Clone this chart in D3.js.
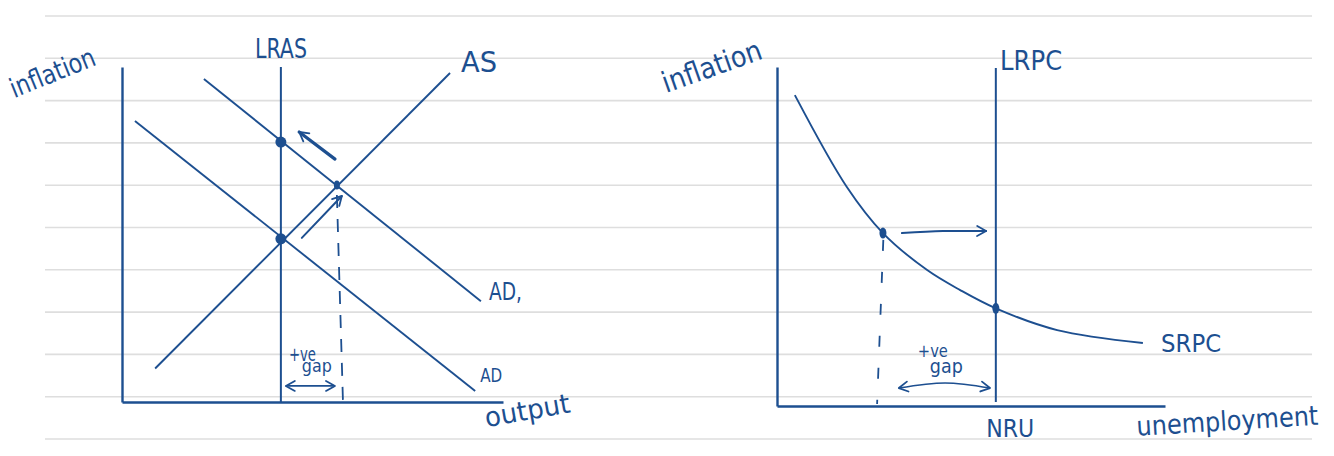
<!DOCTYPE html>
<html lang="en">
<head>
    <meta charset="UTF-8">
    <title>AD-AS and Phillips curve</title>
    <style>
        body { margin: 0; background: #fff; }
        svg { display: block; }
        text {
            fill: #1d4f90;
            font-family: "Liberation Sans Narrow", "DejaVu Sans Condensed", "Liberation Sans", sans-serif;
        }
    </style>
</head>
<body>

<svg width="1334" height="456"></svg>

<script src="https://d3js.org/d3.v7.min.js"></script>
<script>
    // left chart: output (x) vs inflation (y), both on a 0-10 sketch scale
    const lrasX = 4.17;
    const asLine = [[0.87, 1.0], [8.61, 9.82]];
    const adLine = [[0.34, 8.39], [9.27, 0.33]];
    const ad1Line = [[2.15, 9.64], [9.42, 3.01]];
    const leftBigDots = [[4.17, 7.76], [4.17, 4.87]];
    const leftSmallDots = [[5.64, 6.48]];
    const leftDashed = [[5.64, 6.18], [5.80, 0]];
    const leftArrows = [
        [[5.59, 7.25], [4.65, 8.06]],
        [[4.72, 4.90], [5.77, 6.15]]
    ];
    const leftGap = [[4.30, 0.48], [5.59, 0.48]];

    // right chart: unemployment (x) vs inflation (y)
    const lrpcX = 5.64;
    const srpc = [[0.46, 9.17], [1.80, 6.46], [2.73, 5.10], [3.87, 4.01],
        [4.72, 3.42], [5.64, 2.88], [7.22, 2.24], [9.43, 1.86]];
    const rightDots = [[2.73, 5.10], [5.64, 2.88]];
    const rightDashed = [[2.74, 4.90], [2.58, 0.06]];
    const rightArrow = [[3.22, 5.10], [4.28, 5.16], [5.39, 5.16]];
    const rightGap = [[3.14, 0.53], [4.33, 0.68], [5.49, 0.53]];

    const ink = "#1d4f90";
    const svg = d3.select("svg");

    svg.append("rect").attr("width", 1334).attr("height", 456).attr("fill", "#fff");

    // notebook ruling
    svg.append("g").selectAll("line").data(d3.range(11)).enter().append("line")
        .attr("x1", 45).attr("x2", 1312)
        .attr("y1", i => 16 + i * 42.3).attr("y2", i => 16 + i * 42.3)
        .attr("stroke", "#dedede").attr("stroke-width", 1.6);

    const defs = svg.append("defs");
    defs.append("marker").attr("id", "chev")
        .attr("viewBox", "-12 -8 14 16").attr("refX", 0).attr("refY", 0)
        .attr("markerUnits", "userSpaceOnUse")
        .attr("markerWidth", 14).attr("markerHeight", 16)
        .attr("orient", "auto-start-reverse")
        .append("path").attr("d", "M-9,-5 L0,0 L-9,5")
        .attr("fill", "none").attr("stroke", ink).attr("stroke-width", 1.8)
        .attr("stroke-linecap", "round").attr("stroke-linejoin", "round");

    function drawPanel(x, y) {
        const g = svg.append("g");
        const line = d3.line().x(d => x(d[0])).y(d => y(d[1]));
        const axisStyle = sel => sel.select(".domain").attr("stroke", ink).attr("stroke-width", 2.4);
        g.append("g").attr("transform", `translate(${x(0)},0)`)
            .call(d3.axisLeft(y).ticks(0).tickSizeOuter(0)).call(axisStyle);
        g.append("g").attr("transform", `translate(0,${y(0)})`)
            .call(d3.axisBottom(x).ticks(0).tickSizeOuter(0)).call(axisStyle);
        return { g, line };
    }

    function label(t, x, y, size, len, rot) {
        svg.append("text")
            .attr("transform", `translate(${x},${y}) rotate(${rot || 0})`)
            .attr("font-size", size)
            .attr("textLength", len)
            .attr("lengthAdjust", "spacingAndGlyphs")
            .text(t);
    }

    // ---------- left: AD / AS ----------
    const xL = d3.scaleLinear().domain([0, 10]).range([122, 503]);
    const yL = d3.scaleLinear().domain([0, 10]).range([402, 67]);
    const left = drawPanel(xL, yL);

    left.g.append("path").attr("d", left.line([[lrasX, 0], [lrasX, 10]]))
        .attr("stroke", ink).attr("stroke-width", 2).attr("fill", "none");
    [asLine, adLine, ad1Line].forEach(l => {
        left.g.append("path").attr("d", left.line(l))
            .attr("stroke", ink).attr("stroke-width", 1.9).attr("fill", "none");
    });
    left.g.append("path").attr("d", left.line(leftDashed))
        .attr("stroke", ink).attr("stroke-width", 1.8).attr("stroke-dasharray", "13,11").attr("fill", "none");
    left.g.selectAll(".arr").data(leftArrows).enter().append("path")
        .attr("d", left.line).attr("fill", "none").attr("stroke", ink)
        .attr("stroke-width", (d, i) => i === 0 ? 3.2 : 2).attr("stroke-linecap", "round")
        .attr("marker-end", "url(#chev)");
    left.g.append("path").attr("d", left.line(leftGap))
        .attr("fill", "none").attr("stroke", ink).attr("stroke-width", 1.6)
        .attr("marker-start", "url(#chev)").attr("marker-end", "url(#chev)");
    left.g.selectAll(".bd").data(leftBigDots).enter().append("circle")
        .attr("cx", d => xL(d[0])).attr("cy", d => yL(d[1])).attr("r", 5.5).attr("fill", ink);
    left.g.selectAll(".sd").data(leftSmallDots).enter().append("ellipse")
        .attr("cx", d => xL(d[0])).attr("cy", d => yL(d[1])).attr("rx", 3).attr("ry", 4.5).attr("fill", ink);

    label("inflation", xL(-2.83), yL(9.07), 27, 90, -22);
    label("LRAS", xL(3.49), yL(10.27), 27, 52);
    label("AS", xL(8.90), yL(9.85), 28, 36);
    label("AD,", xL(9.63), yL(3.04), 25, 33);
    label("AD", xL(9.40), yL(0.60), 19, 22);
    label("output", xL(9.57), yL(-0.75), 27, 86, -10);
    label("+ve", xL(4.38), yL(1.22), 19, 27);
    label("gap", xL(4.72), yL(0.90), 18, 30);

    // ---------- right: Phillips curve ----------
    const xR = d3.scaleLinear().domain([0, 10]).range([777, 1165]);
    const yR = d3.scaleLinear().domain([0, 10]).range([406, 67]);
    const right = drawPanel(xR, yR);

    right.g.append("path").attr("d", right.line([[lrpcX, 0.12], [lrpcX, 9.97]]))
        .attr("stroke", ink).attr("stroke-width", 2).attr("fill", "none");
    right.g.append("path")
        .attr("d", d3.line().x(d => xR(d[0])).y(d => yR(d[1])).curve(d3.curveCatmullRom.alpha(0.5))(srpc))
        .attr("stroke", ink).attr("stroke-width", 1.9).attr("fill", "none");
    right.g.append("path").attr("d", right.line(rightDashed))
        .attr("stroke", ink).attr("stroke-width", 1.8).attr("stroke-dasharray", "11,21").attr("fill", "none");
    const curved = d3.line().x(d => xR(d[0])).y(d => yR(d[1])).curve(d3.curveNatural);
    right.g.append("path").attr("d", curved(rightArrow))
        .attr("fill", "none").attr("stroke", ink).attr("stroke-width", 2).attr("stroke-linecap", "round")
        .attr("marker-end", "url(#chev)");
    right.g.append("path").attr("d", curved(rightGap))
        .attr("fill", "none").attr("stroke", ink).attr("stroke-width", 1.6)
        .attr("marker-start", "url(#chev)").attr("marker-end", "url(#chev)");
    right.g.selectAll(".rd").data(rightDots).enter().append("ellipse")
        .attr("cx", d => xR(d[0])).attr("cy", d => yR(d[1])).attr("rx", 3.5).attr("ry", 5.5).attr("fill", ink);

    label("inflation", xR(-2.86), yR(9.23), 29, 104, -19.5);
    label("LRPC", xR(5.75), yR(9.91), 26, 62);
    label("SRPC", xR(9.90), yR(1.59), 25, 60);
    label("+ve", xR(3.63), yR(1.45), 17, 30);
    label("gap", xR(3.94), yR(0.97), 20, 33);
    label("NRU", xR(5.39), yR(-0.91), 25, 48);
    label("unemployment", xR(9.28), yR(-0.88), 27, 182, -3.5);
</script>
</body>
</html>
